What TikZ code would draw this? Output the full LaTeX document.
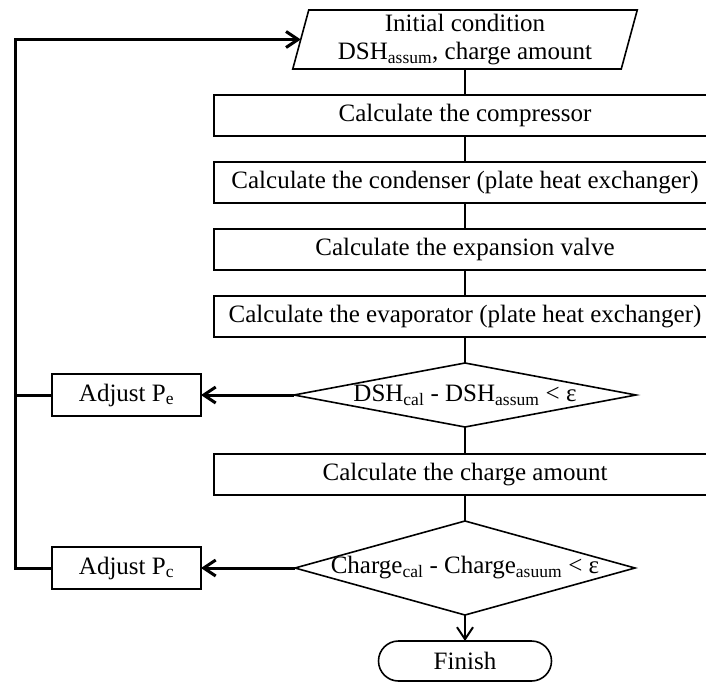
\documentclass[tikz,border=0pt]{standalone}
\usepackage{fontspec}
\setmainfont{Liberation Serif}
\usetikzlibrary{positioning, arrows.meta, shapes.misc}
\newcommand{\lo}[1]{\textsubscript{#1}}
\tikzset{
    txt/.style={font=\fontsize{25}{28.5}\selectfont, outer sep=0pt},
    io/.style={txt, rectangle, minimum width=328.5pt, minimum height=59pt, inner sep=1pt, align=center},
    proc/.style={txt, draw, rectangle, line width=1.6pt, minimum width=502pt, minimum height=41pt, inner sep=2pt},
    decis/.style={txt, rectangle, minimum width=342pt, minimum height=64pt, inner sep=0pt},
    adj/.style={txt, draw, rectangle, line width=1.6pt, minimum width=149pt, minimum height=42pt, inner sep=2pt},
    term/.style={txt, draw, rounded rectangle, line width=1.6pt, minimum width=177pt, minimum height=40pt, inner sep=2pt},
    outl/.style={line width=1.6pt, line join=miter},
    conn/.style={line width=2pt},
    back/.style={line width=3pt, -{Straight Barb[length=12pt,width=16pt]}},
}
\begin{document}
\begin{tikzpicture}[x=1pt, y=-1pt]
    \useasboundingbox (0,0) rectangle (706,685);

    \node[io] (init) at (465,39.5) {Initial condition\\DSH\lo{assum}, charge amount};
    \draw[outl] ([xshift=8pt]init.north west) -- ([xshift=8pt]init.north east)
        -- ([xshift=-8pt]init.south east) -- ([xshift=-8pt]init.south west) -- cycle;

    \node[proc, below=26pt of init] (comp) {Calculate the compressor};
    \node[proc, below=26pt of comp] (cond) {Calculate the condenser (plate heat exchanger)};
    \node[proc, below=26pt of cond] (expv) {Calculate the expansion valve};
    \node[proc, below=26pt of expv] (evap) {Calculate the evaporator (plate heat exchanger)};

    \node[decis, below=26pt of evap] (dsh) {DSH\lo{cal} - DSH\lo{assum} < ε};
    \draw[outl] (dsh.north) -- (dsh.east) -- (dsh.south) -- (dsh.west) -- cycle;

    \node[proc, below=27pt of dsh] (chrg) {Calculate the charge amount};

    \node[decis, below=26pt of chrg, minimum width=340pt, minimum height=94pt] (chk) {Charge\lo{cal} - Charge\lo{asuum} < ε};
    \draw[outl] (chk.north) -- (chk.east) -- (chk.south) -- (chk.west) -- cycle;

    \node[term, below=26pt of chk] (fin) {Finish};

    \node[adj, left=93pt of dsh] (adje) {Adjust P\lo{e}};
    \node[adj, left=94pt of chk] (adjc) {Adjust P\lo{c}};

    \coordinate (rail) at (15,0);

    % main column
    \draw[conn] (init.south) -- (comp.north);
    \draw[conn] (comp.south) -- (cond.north);
    \draw[conn] (cond.south) -- (expv.north);
    \draw[conn] (expv.south) -- (evap.north);
    \draw[conn] (evap.south) -- (dsh.north);
    \draw[conn] (dsh.south) -- (chrg.north);
    \draw[conn] (chrg.south) -- (chk.north);
    \draw[conn, -{Straight Barb[length=12pt,width=16pt]}] (chk.south) -- (fin.north);

    % loops back
    \draw[back] (dsh.west) -- (adje.east);
    \draw[back] (chk.west) -- (adjc.east);
    \draw[line width=3pt] (adje.west) -- (adje.west -| rail);
    \draw[back] (adjc.west) -- (adjc.west -| rail) |- (init.west);
\end{tikzpicture}
\end{document}
